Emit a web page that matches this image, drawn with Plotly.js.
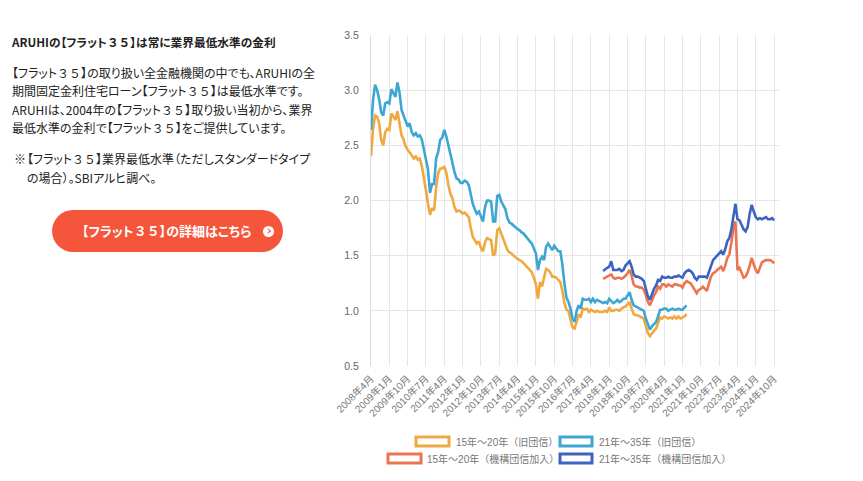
<!DOCTYPE html>
<html>
<head>
<meta charset="utf-8">
<script src="https://cdn.plot.ly/plotly-3.0.1.min.js"></script>
<style>
  html,body{margin:0;padding:0;background:#fff;}
  body{width:863px;height:481px;position:relative;overflow:hidden;font-family:"Noto Sans CJK JP","Noto Sans",sans-serif;color:#222;}
  #chart{position:absolute;left:0;top:0;width:863px;height:481px;}
  .txt{position:absolute;left:12px;font-size:12px;line-height:18.4px;white-space:nowrap;z-index:2;font-feature-settings:"palt";}
  .n{font-feature-settings:normal;}
  #btn{position:absolute;left:52px;top:210px;width:231px;height:42px;border-radius:21px;background:#f5553a;color:#fff;font-weight:bold;font-size:13px;line-height:42px;z-index:2;font-feature-settings:"palt";}
  #btn span.t{position:absolute;left:30px;top:0;}
  #btn span.i{position:absolute;left:211px;top:15.5px;width:11px;height:11px;border-radius:50%;background:#fff;}
  #btn span.i:after{content:"";position:absolute;left:2.6px;top:3.4px;width:3.2px;height:3.2px;border-right:1.6px solid #f5553a;border-top:1.6px solid #f5553a;transform:rotate(45deg);}
</style>
</head>
<body>
<div id="chart"></div>
<div class="txt" style="top:33px;font-weight:bold;font-size:11.7px;">ARUHIの【フラット<span class="n">３５</span>】は常に業界最低水準の金利</div>
<div class="txt" style="top:64px;">【フラット<span class="n">３５</span>】の取り扱い全金融機関の中でも、ARUHIの全<br>期間固定金利住宅ローン【フラット<span class="n">３５</span>】は最低水準です。<br>ARUHIは、2004年の【フラット<span class="n">３５</span>】取り扱い当初から、業界<br>最低水準の金利で【フラット<span class="n">３５</span>】をご提供しています。</div>
<div class="txt" style="top:149px;left:14px;line-height:19px;"><span style="position:absolute;left:0;top:0;">※</span><div style="padding-left:13px;">【フラット<span class="n">３５</span>】業界最低水準（ただしスタンダードタイプ<br>の場合）。SBIアルヒ調べ。</div></div>
<div id="btn"><span class="t">【フラット<span class="n">３５</span>】の詳細はこちら</span><span class="i"></span></div>
<script>
// Month categories 2008年4月 ... 2024年10月
const months = [];
(function(){ let y=2008, m=4; while(!(y===2024 && m===11)){ months.push(y+"年"+m+"月"); m++; if(m>12){m=1;y++;} } })();
const tickLabels = months.filter((_, i) => i % 9 === 0);

const seriesNames = ["15年～20年（旧団信）", "21年～35年（旧団信）", "15年～20年（機構団信加入）", "21年～35年（機構団信加入）"];

// 15年～20年（旧団信） 2008年4月〜2021年3月
const old15 = [
2.40,2.65,2.77,2.76,2.70,2.55,2.50,2.62,2.65,2.64,2.79,2.76,2.73,2.81,2.70,2.59,2.55,2.49,2.46,2.44,
2.41,2.38,2.40,2.37,2.38,2.31,2.18,2.09,1.97,1.87,1.93,1.91,2.12,2.25,2.29,2.29,2.31,2.25,2.14,2.06,
2.02,1.94,1.90,1.91,1.90,1.88,1.89,1.87,1.85,1.75,1.67,1.64,1.61,1.63,1.57,1.54,1.62,1.66,1.65,1.64,
1.50,1.52,1.73,1.75,1.70,1.65,1.60,1.55,1.53,1.52,1.50,1.48,1.47,1.46,1.45,1.43,1.41,1.39,1.37,1.35,
1.30,1.24,1.11,1.26,1.22,1.31,1.38,1.37,1.35,1.31,1.31,1.30,1.28,1.26,1.18,1.07,1.01,1.00,0.92,0.85,
0.84,0.92,0.97,0.94,1.02,1.01,1.02,0.99,1.01,1.00,0.99,1.00,0.99,0.99,0.99,1.00,0.99,1.03,1.00,1.00,
1.01,1.01,1.00,1.02,1.03,1.04,1.06,1.08,1.02,0.97,0.96,0.96,0.95,0.94,0.93,0.86,0.80,0.77,0.80,0.82,
0.84,0.89,0.94,0.93,0.95,0.94,0.93,0.94,0.93,0.95,0.93,0.95,0.93,0.94,0.95,0.97];

// 21年～35年（旧団信） 2008年4月〜2021年3月
const old21 = [
2.64,2.91,3.05,3.00,2.92,2.80,2.77,2.88,2.89,2.88,3.01,2.97,2.94,3.07,2.98,2.82,2.77,2.73,2.67,2.70,
2.62,2.59,2.61,2.58,2.59,2.55,2.46,2.37,2.28,2.07,2.15,2.15,2.38,2.44,2.55,2.57,2.64,2.58,2.50,2.40,
2.33,2.26,2.20,2.19,2.16,2.16,2.18,2.17,2.14,2.05,1.97,1.92,1.88,1.90,1.85,1.81,1.94,2.00,2.00,1.99,
1.81,1.81,2.04,2.05,1.99,1.95,1.92,1.84,1.80,1.79,1.77,1.75,1.74,1.73,1.71,1.70,1.68,1.66,1.63,1.61,
1.56,1.52,1.37,1.46,1.49,1.46,1.58,1.61,1.58,1.55,1.59,1.56,1.54,1.54,1.42,1.25,1.12,1.08,1.02,0.93,
0.90,1.00,1.05,1.02,1.11,1.10,1.10,1.11,1.08,1.11,1.08,1.10,1.09,1.08,1.07,1.08,1.07,1.11,1.09,1.07,
1.08,1.10,1.08,1.09,1.11,1.11,1.14,1.17,1.10,1.05,1.04,1.03,1.02,1.01,1.00,0.93,0.87,0.83,0.86,0.88,
0.90,0.95,1.01,1.01,1.02,1.02,1.00,1.01,1.02,1.01,1.01,1.02,1.01,1.01,1.03,1.05];

// 15年～20年（機構団信加入） 2017年10月〜2024年10月
const new15 = [
1.29,1.30,1.31,1.32,1.33,1.30,1.29,1.30,1.30,1.29,1.30,1.32,1.34,1.37,1.32,1.24,1.22,1.22,1.21,1.21,
1.19,1.14,1.08,1.05,1.10,1.14,1.17,1.22,1.20,1.24,1.24,1.22,1.24,1.23,1.22,1.24,1.24,1.23,1.23,1.21,
1.25,1.27,1.26,1.25,1.22,1.19,1.16,1.19,1.20,1.22,1.20,1.18,1.25,1.31,1.34,1.35,1.37,1.39,1.40,1.36,
1.41,1.48,1.51,1.62,1.75,1.81,1.37,1.39,1.34,1.30,1.31,1.35,1.41,1.48,1.42,1.37,1.34,1.40,1.44,1.45,
1.46,1.46,1.46,1.45,1.43];

// 21年～35年（機構団信加入） 2017年10月〜2024年10月
const new21 = [
1.36,1.38,1.39,1.40,1.45,1.37,1.37,1.37,1.38,1.36,1.37,1.41,1.43,1.45,1.40,1.33,1.31,1.31,1.30,1.29,
1.27,1.20,1.13,1.10,1.16,1.20,1.23,1.28,1.27,1.31,1.30,1.30,1.31,1.30,1.30,1.31,1.31,1.32,1.31,1.30,
1.34,1.36,1.37,1.36,1.34,1.30,1.28,1.31,1.31,1.31,1.31,1.30,1.35,1.40,1.46,1.48,1.50,1.52,1.54,1.51,
1.56,1.63,1.66,1.74,1.87,1.97,1.83,1.82,1.78,1.74,1.72,1.76,1.88,1.96,1.90,1.85,1.83,1.84,1.83,1.84,
1.85,1.83,1.83,1.84,1.82];

const colors = ["#f0a840", "#3ea6d2", "#ec7450", "#3d63c2"];

const newStart = months.indexOf("2017年10月");
const traces = [
  {x: months.slice(0, old15.length), y: old15, name: seriesNames[0], color: colors[0]},
  {x: months.slice(0, old21.length), y: old21, name: seriesNames[1], color: colors[1]},
  {x: months.slice(newStart, newStart + new15.length), y: new15, name: seriesNames[2], color: colors[2]},
  {x: months.slice(newStart, newStart + new21.length), y: new21, name: seriesNames[3], color: colors[3]}
].map(t => ({type: "scatter", mode: "lines", x: t.x, y: t.y, name: t.name,
  line: {color: t.color, width: 2.6, shape: "linear"}, hoverinfo: "skip"}));

// plot-area pixel geometry
const PL = 371, PR = 779, PT = 35, PB = 366;
const px = v => (v - PL) / (PR - PL);
const py = v => (PB - v) / (PB - PT);

const legendItems = [
  {i: 0, bx0: 416, bx1: 449, by0: 437, by1: 446, tx: 454},
  {i: 1, bx0: 560, bx1: 592, by0: 437, by1: 446, tx: 597},
  {i: 2, bx0: 388, bx1: 421, by0: 454, by1: 463, tx: 425},
  {i: 3, bx0: 560, bx1: 592, by0: 454, by1: 463, tx: 597}
];
const shapes = legendItems.map(l => ({type: "rect", xref: "paper", yref: "paper",
  x0: px(l.bx0), x1: px(l.bx1), y0: py(l.by1), y1: py(l.by0),
  line: {color: colors[l.i], width: 3}, fillcolor: "#ffffff"}));
const annotations = legendItems.map(l => ({xref: "paper", yref: "paper",
  x: px(l.tx), y: py((l.by0 + l.by1) / 2), xanchor: "left", yanchor: "middle",
  text: seriesNames[l.i], showarrow: false,
  font: {size: 10, color: "#777", family: "Liberation Sans, Noto Sans CJK JP, sans-serif"}}));

const layout = {
  width: 863, height: 481,
  margin: {l: PL, r: 863 - PR, t: PT, b: 481 - PB, pad: 0},
  paper_bgcolor: "#ffffff", plot_bgcolor: "#ffffff",
  showlegend: false,
  font: {family: "Liberation Sans, Noto Sans CJK JP, sans-serif", size: 10, color: "#666"},
  xaxis: {
    type: "category", categoryorder: "array", categoryarray: months,
    range: [0, (PR - PL) / 2.036],
    tickmode: "array", tickvals: tickLabels, ticktext: tickLabels,
    tickangle: -45, ticks: "outside", ticklen: 2, tickcolor: "#fff",
    showgrid: true, gridcolor: "#e6e6e6", gridwidth: 1,
    zeroline: false, showline: false,
    tickfont: {size: 10, color: "#777"}, fixedrange: true
  },
  yaxis: {
    range: [0.5, 3.5], dtick: 0.5, tick0: 0.5, tickformat: ".1f",
    showgrid: true, gridcolor: "#e6e6e6", gridwidth: 1,
    zeroline: false, showline: true, linecolor: "#dcdcdc", linewidth: 1,
    ticks: "", ticklabelstandoff: 9,
    tickfont: {size: 10.5, color: "#666"}, fixedrange: true
  },
  shapes: shapes,
  annotations: annotations
};

Plotly.newPlot("chart", traces, layout, {displayModeBar: false, staticPlot: true});
</script>
</body>
</html>
